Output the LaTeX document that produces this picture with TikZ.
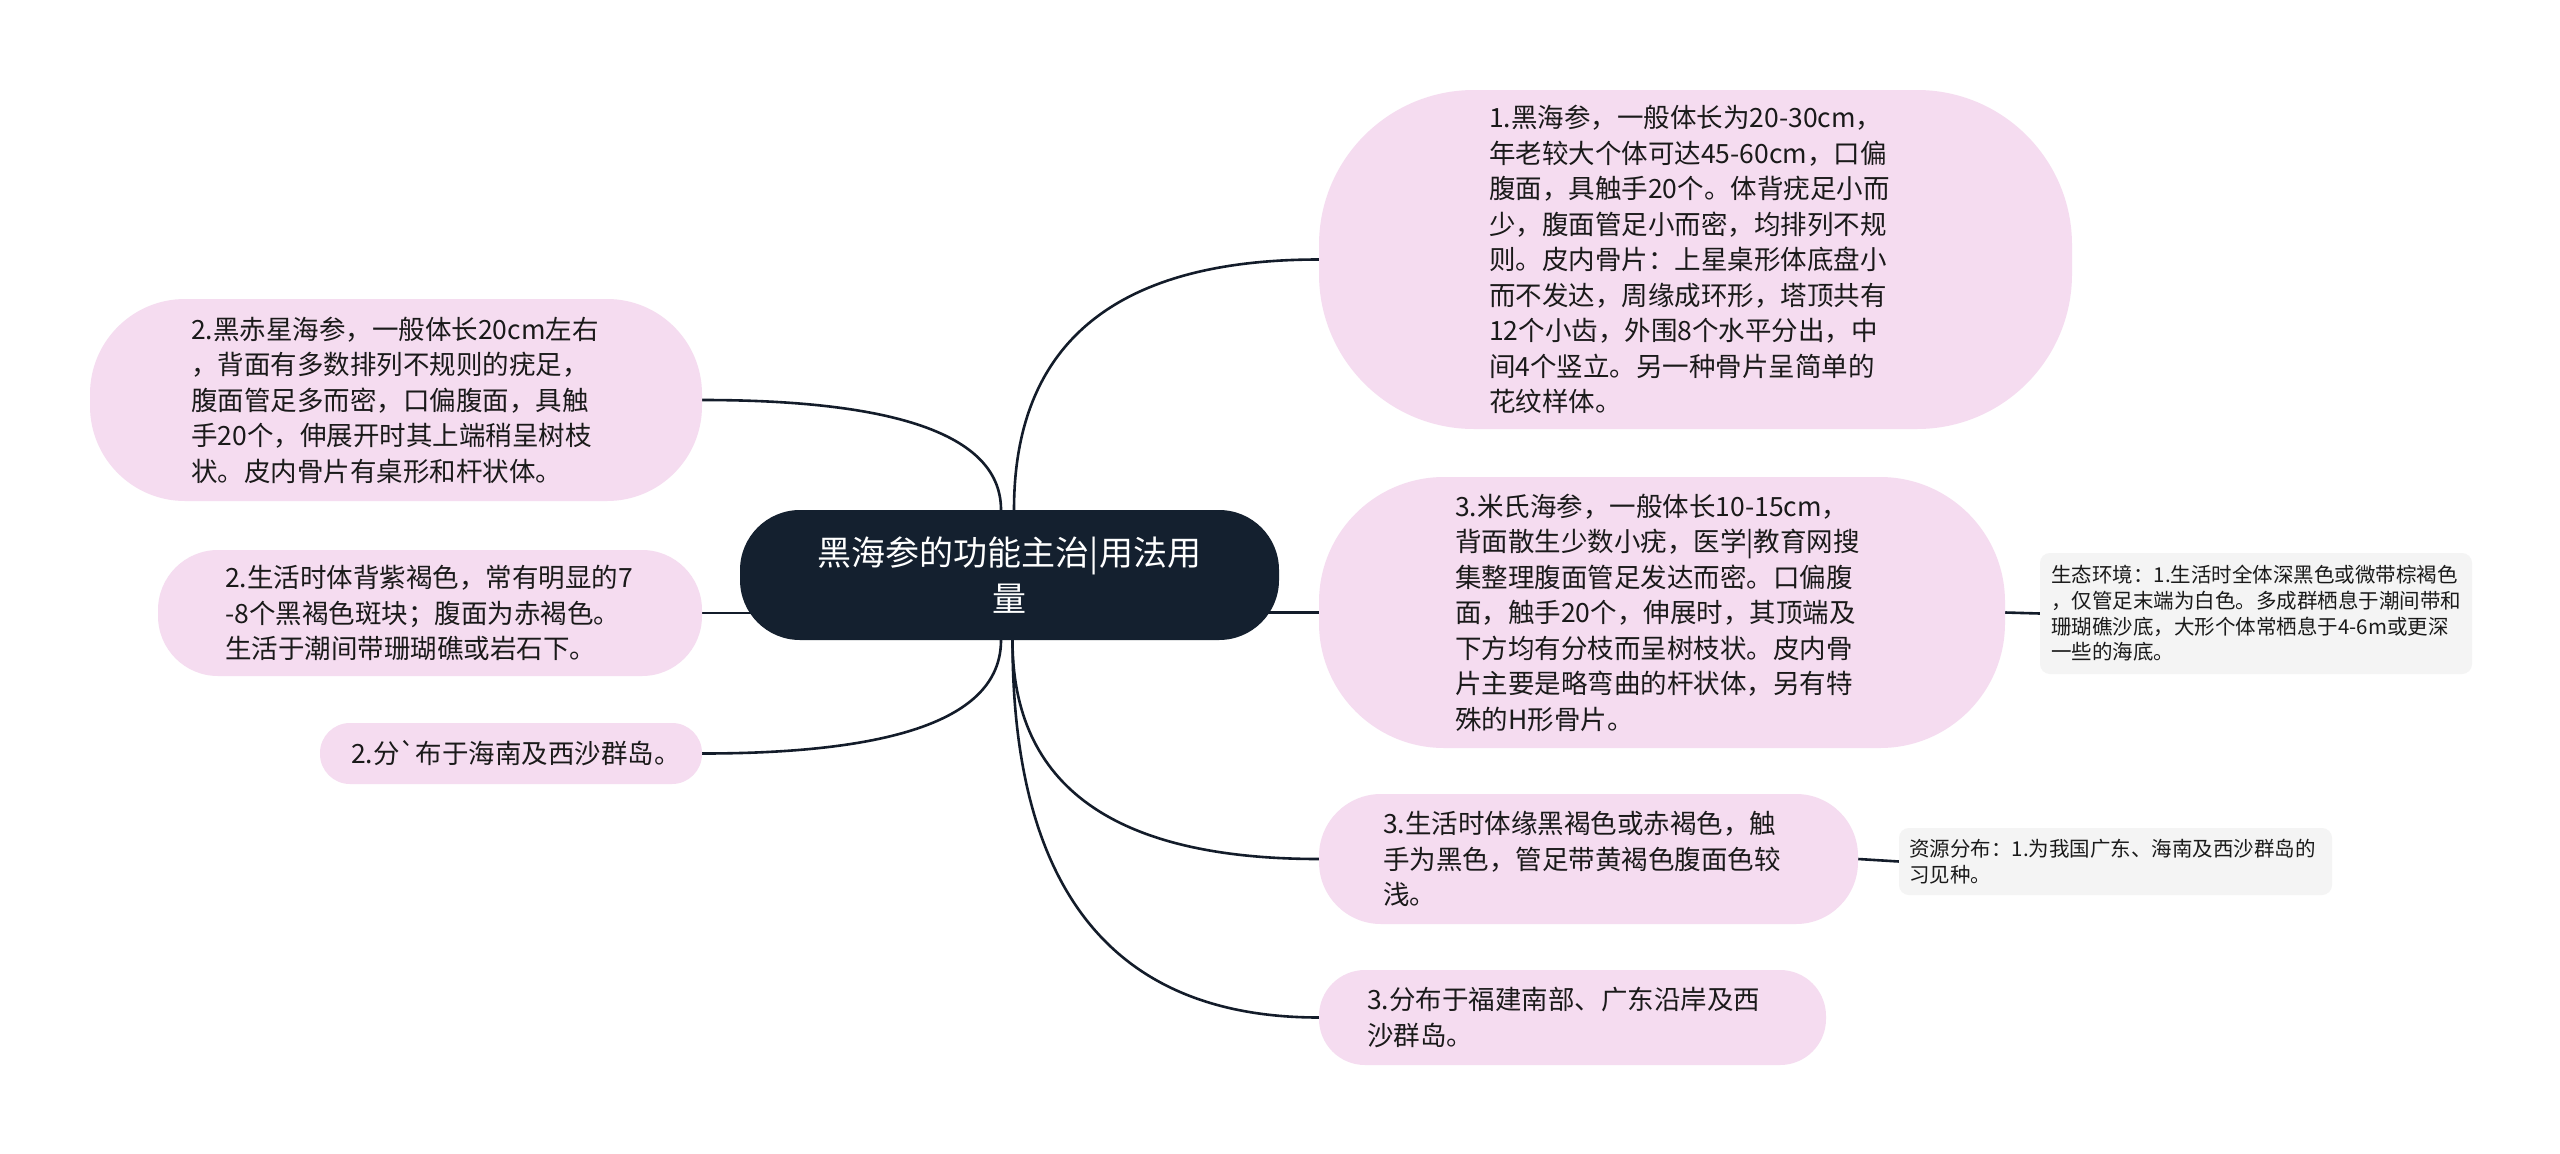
\documentclass[tikz,border=0pt]{standalone}
\usepackage{fontspec}
\newfontfamily\cjk{Noto Sans CJK SC}
\definecolor{pinkfill}{HTML}{F5DCF0}
\definecolor{darkfill}{HTML}{14202F}
\definecolor{grayfill}{HTML}{F4F4F4}
\definecolor{txtc}{HTML}{1A1A1A}
\definecolor{linec}{HTML}{131C2A}
\pgfdeclarelayer{back}
\pgfdeclarelayer{lines}
\pgfsetlayers{back,lines,main}
\begin{document}
\begin{tikzpicture}[x=1pt,y=-1pt,
  pinkbox/.style={fill=pinkfill,draw=none,inner sep=0pt},
  graybox/.style={fill=grayfill,draw=none,inner sep=0pt,rounded corners=10pt},
  centralbox/.style={fill=darkfill,draw=none,inner sep=0pt,rounded corners=60pt,
    text=white,align=center,font=\cjk\fontsize{34}{46}\selectfont},
  pinktext/.style={inner sep=0pt,anchor=west,align=left,text=txtc,
    font=\cjk\fontsize{26.5}{35.5}\selectfont},
  graytext/.style={inner sep=0pt,anchor=west,align=left,text=txtc,
    font=\cjk\fontsize{20.5}{25.6}\selectfont},
  conn/.style={draw=linec,line width=2.6pt}
]
\begin{pgfonlayer}{back}
\fill[white] (0,0) rectangle (2560,1154);
\end{pgfonlayer}
\useasboundingbox (0,0) rectangle (2560,1154);

% central
\node[centralbox,minimum width=539pt,minimum height=130pt] (c) at (1009.5,575)
  {黑海参的功能主治|用法用\\量};

% right side boxes
\node[pinkbox,minimum width=753pt,minimum height=339pt,rounded corners=155pt] (A) at (1695.5,259.5) {};
\node[pinktext] (tA) at (1489,259.5) {1.黑海参，一般体长为20-30cm，\\
年老较大个体可达45-60cm，口偏\\
腹面，具触手20个。体背疣足小而\\
少，腹面管足小而密，均排列不规\\
则。皮内骨片：上星桌形体底盘小\\
而不发达，周缘成环形，塔顶共有\\
12个小齿，外围8个水平分出，中\\
间4个竖立。另一种骨片呈简单的\\
花纹样体。};

\node[pinkbox,minimum width=686pt,minimum height=271pt,rounded corners=125pt] (B) at (1662,612.5) {};
\node[pinktext] (tB) at (1455,612.5) {3.米氏海参，一般体长10-15cm，\\
背面散生少数小疣，医学|教育网搜\\
集整理腹面管足发达而密。口偏腹\\
面，触手20个，伸展时，其顶端及\\
下方均有分枝而呈树枝状。皮内骨\\
片主要是略弯曲的杆状体，另有特\\
殊的H形骨片。};

\node[pinkbox,minimum width=539pt,minimum height=130pt,rounded corners=62pt] (C) at (1588.5,859) {};
\node[pinktext] (tC) at (1383,859) {3.生活时体缘黑褐色或赤褐色，触\\
手为黑色，管足带黄褐色腹面色较\\
浅。};

\node[pinkbox,minimum width=507pt,minimum height=95pt,rounded corners=46pt] (D) at (1572.5,1017.5) {};
\node[pinktext] (tD) at (1367,1017.5) {3.分布于福建南部、广东沿岸及西\\
沙群岛。};

% left side boxes
\node[pinkbox,minimum width=612pt,minimum height=202pt,rounded corners=95pt] (E) at (396,400) {};
\node[pinktext] (tE) at (191,400) {2.黑赤星海参，一般体长20cm左右\\
，背面有多数排列不规则的疣足，\\
腹面管足多而密，口偏腹面，具触\\
手20个，伸展开时其上端稍呈树枝\\
状。皮内骨片有桌形和杆状体。};

\node[pinkbox,minimum width=544pt,minimum height=126pt,rounded corners=60pt] (F) at (430,613) {};
\node[pinktext] (tF) at (225,613) {2.生活时体背紫褐色，常有明显的7\\
-8个黑褐色斑块；腹面为赤褐色。\\
生活于潮间带珊瑚礁或岩石下。};

\node[pinkbox,minimum width=382pt,minimum height=61pt,rounded corners=30pt] (G) at (511,753.5) {};
\node[pinktext] (tG) at (351,753.5) {2.分`布于海南及西沙群岛。};

% gray notes
\node[graybox,minimum width=432pt,minimum height=121pt] (H) at (2256,613.5) {};
\node[graytext] (tH) at (2051,613.5) {生态环境：1.生活时全体深黑色或微带棕褐色\\
，仅管足末端为白色。多成群栖息于潮间带和\\
珊瑚礁沙底，大形个体常栖息于4-6m或更深\\
一些的海底。};

\node[graybox,minimum width=433pt,minimum height=67pt] (I) at (2115.5,861.5) {};
\node[graytext] (tI) at (1909,861.5) {资源分布：1.为我国广东、海南及西沙群岛的\\
习见种。};

% connectors
\begin{pgfonlayer}{lines}
\draw[conn] ([xshift=4.5pt]c.north) .. controls +(0,-167) and +(-203,0) .. (A.west);
\draw[conn] ([xshift=-8.5pt]c.north) .. controls +(0,-73) and +(199,0) .. (E.east);
\draw[conn] ([xshift=-8.5pt]c.south) .. controls +(0,76) and +(199,0) .. (G.east);
\draw[conn] ([xshift=3pt]c.south) .. controls +(0,146) and +(-205,0) .. (C.west);
\draw[conn] ([xshift=3pt]c.south) .. controls +(0,251) and +(-205,0) .. (D.west);
\draw[conn] (B.west) -- ([xshift=-40pt]c.east |- B.west);
\draw[conn] (F.east) -- ([xshift=40pt]c.west |- F.east);
\draw[conn] (B.east) -- (H.west);
\draw[conn] (C.east) -- (I.west);
\end{pgfonlayer}
\end{tikzpicture}
\end{document}
